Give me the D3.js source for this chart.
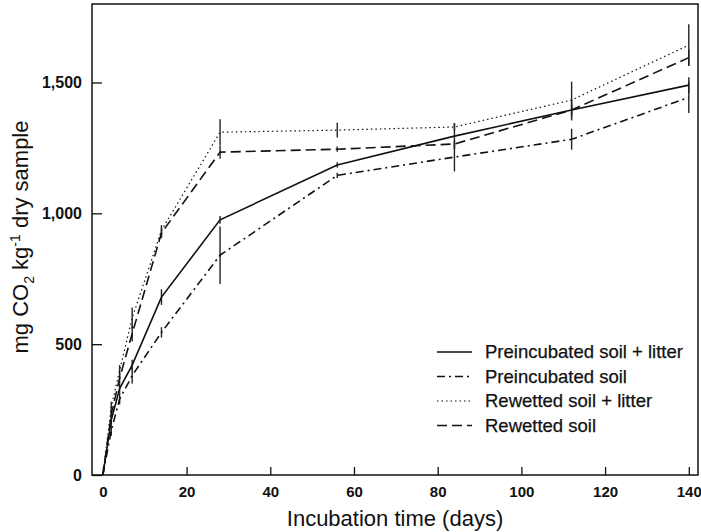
<!DOCTYPE html>
<html>
<head>
<meta charset="utf-8">
<script src="https://cdn.jsdelivr.net/npm/d3@7"></script>
<style>
  body { margin: 0; background: #fff; }
  svg { display: block; }
  text { font-family: "Liberation Sans", Arial, sans-serif; fill: #111; }
</style>
</head>
<body>
<svg id="chart" width="701" height="532"></svg>
<script>
// sampling days
var days = [0, 2, 4, 7, 14, 28, 56, 84, 112, 140];

// cumulative CO2 per series
var preLitter = [0, 210, 330, 420, 680, 975, 1185, 1295, 1395, 1490];
var preSoil   = [0, 170, 290, 380, 545, 840, 1145, 1215, 1283, 1443];
var rewLitter = [0, 260, 400, 600, 935, 1310, 1318, 1330, 1433, 1643];
var rewSoil   = [0, 230, 370, 540, 925, 1234, 1245, 1265, 1395, 1595];

// error bar half widths
var preLitterErr = [0, 20, 20, 20, 30, 15, 10, 50, 40, 30];
var preSoilErr   = [0, 20, 20, 30, 20, 110, 10, 55, 40, 60];
var rewLitterErr = [0, 20, 20, 40, 20, 50, 28, 15, 70, 80];
var rewSoilErr   = [0, 20, 20, 30, 20, 25, 10, 15, 20, 30];

var seriesNames = ["Preincubated soil + litter", "Preincubated soil", "Rewetted soil + litter", "Rewetted soil"];
var xTicks = [0, 20, 40, 60, 80, 100, 120, 140];
var yTicks = [0, 500, 1000, 1500];

var series = [
  {name: seriesNames[0], values: preLitter, err: preLitterErr, dash: null, width: 1.6},
  {name: seriesNames[1], values: preSoil, err: preSoilErr, dash: "8,4,2,4", width: 1.6},
  {name: seriesNames[2], values: rewLitter, err: rewLitterErr, dash: "1.5,3", width: 1.2},
  {name: seriesNames[3], values: rewSoil, err: rewSoilErr, dash: "10,5", width: 1.6}
];

var svg = d3.select("#chart");
var plotL = 92, plotR = 698, plotT = 4, plotB = 475;

var x = d3.scaleLinear().domain([-2.6, 142.2]).range([plotL, plotR]);
var y = d3.scaleLinear().domain([0, 1800]).range([plotB, plotT]);

// frame
svg.append("rect")
  .attr("x", plotL).attr("y", plotT)
  .attr("width", plotR - plotL).attr("height", plotB - plotT)
  .attr("fill", "none").attr("stroke", "#111").attr("stroke-width", 1.5);

// axes, ticks pointing inward
var xAxis = svg.append("g")
  .attr("transform", "translate(0," + plotB + ")")
  .call(d3.axisBottom(x).tickValues(xTicks).tickSizeInner(-8).tickSizeOuter(0).tickPadding(8));
xAxis.select(".domain").remove();
xAxis.selectAll("line").attr("stroke", "#111").attr("stroke-width", 1.3);
xAxis.selectAll("text")
  .attr("dy", "0.9em")
  .style("font-size", "15px").style("font-weight", "bold")
  .style("font-family", "Liberation Sans, Arial, sans-serif");

var yAxis = svg.append("g")
  .attr("transform", "translate(" + plotL + ",0)")
  .call(d3.axisLeft(y).tickValues(yTicks).tickSizeInner(-10).tickSizeOuter(0).tickPadding(10)
    .tickFormat(d3.format(",")));
yAxis.select(".domain").remove();
yAxis.selectAll("line").attr("stroke", "#111").attr("stroke-width", 1.3);
yAxis.selectAll("text")
  .style("font-size", "16px").style("font-weight", "bold")
  .style("font-family", "Liberation Sans, Arial, sans-serif");

// axis titles
svg.append("text")
  .attr("x", 395).attr("y", 526)
  .attr("text-anchor", "middle")
  .style("font-size", "22px")
  .text("Incubation time (days)");

var yt = svg.append("text")
  .attr("transform", "translate(28,237) rotate(-90)")
  .attr("text-anchor", "middle")
  .style("font-size", "22px");
yt.append("tspan").text("mg CO");
yt.append("tspan").attr("dy", 6).style("font-size", "14px").text("2");
yt.append("tspan").attr("dy", -6).text(" kg");
yt.append("tspan").attr("dy", -8).style("font-size", "14px").text("-1");
yt.append("tspan").attr("dy", 8).text(" dry sample");

// error bars
series.forEach(function (s) {
  svg.append("g").selectAll("line")
    .data(days.map(function (d, i) { return {d: d, v: s.values[i], e: s.err[i]}; })
      .filter(function (p) { return p.e > 0; }))
    .enter().append("line")
    .attr("x1", function (p) { return x(p.d); })
    .attr("x2", function (p) { return x(p.d); })
    .attr("y1", function (p) { return y(p.v - p.e); })
    .attr("y2", function (p) { return y(p.v + p.e); })
    .attr("stroke", "#222").attr("stroke-width", 1.4);
});

// series lines
var line = d3.line()
  .x(function (d, i) { return x(days[i]); })
  .y(function (d) { return y(d); });

series.forEach(function (s) {
  svg.append("path")
    .datum(s.values)
    .attr("d", line)
    .attr("fill", "none")
    .attr("stroke", "#111")
    .attr("stroke-width", s.width)
    .attr("stroke-dasharray", s.dash);
});

// legend
var legend = svg.append("g").attr("transform", "translate(437,352)");
series.forEach(function (s, i) {
  var row = legend.append("g").attr("transform", "translate(0," + (i * 24.5) + ")");
  row.append("line")
    .attr("x1", 0).attr("x2", 35).attr("y1", 0).attr("y2", 0)
    .attr("stroke", "#111").attr("stroke-width", s.width)
    .attr("stroke-dasharray", s.dash);
  row.append("text")
    .attr("x", 48).attr("y", 0).attr("dy", "0.35em")
    .attr("stroke", "#111").attr("stroke-width", 0.25)
    .style("font-size", "18.5px")
    .text(s.name);
});
</script>
</body>
</html>
